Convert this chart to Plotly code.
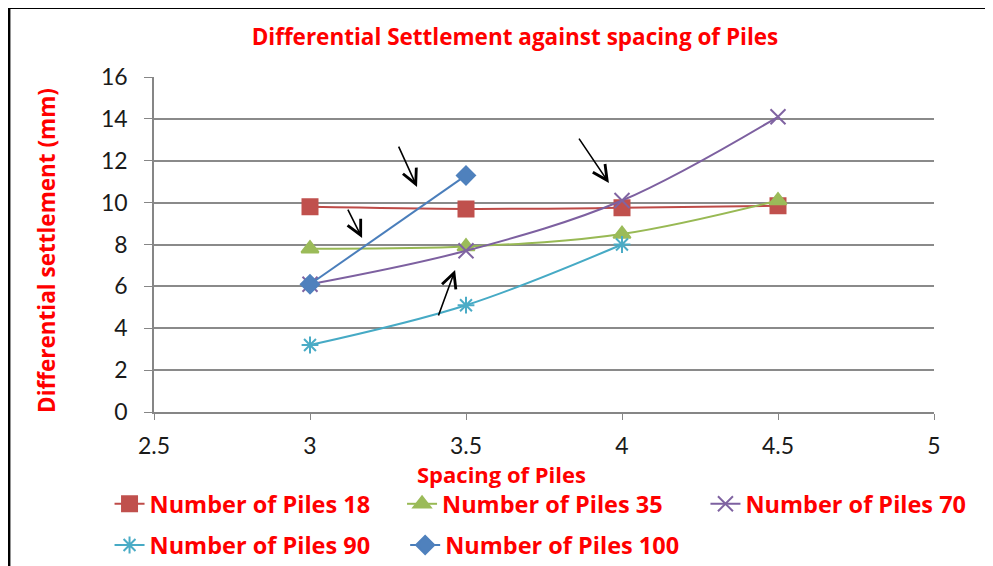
import plotly.graph_objects as go

# spacing of piles
spacing = [3, 3.5, 4, 4.5]

piles_18 = [9.8, 9.7, 9.75, 9.85]
piles_35 = [7.8, 7.9, 8.5, 10.1]
piles_70 = [6.1, 7.7, 10.1, 14.1]
piles_90 = [3.2, 5.1, 8.0]
piles_100 = [6.1, 11.3]

series = [
    ("Number of Piles 18", piles_18, "#BE4B48", "#C0504D", "square", 15),
    ("Number of Piles 35", piles_35, "#98B954", "#9BBB59", "triangle-up", 15),
    ("Number of Piles 70", piles_70, "#7D60A0", "#8064A2", "x-thin-open", 15),
    ("Number of Piles 90", piles_90, "#46AAC5", "#4BACC6", "asterisk-open", 14),
    ("Number of Piles 100", piles_100, "#4A7EBB", "#4F81BD", "diamond", 14),
]

# hand-drawn arrows (tail x, tail y, head x, head y) in data units
arrows = [
    (3.282, 12.75, 3.343, 10.75),
    (3.119, 9.74, 3.167, 8.31),
    (3.859, 13.13, 3.958, 10.94),
    (3.410, 4.54, 3.465, 6.78),
]

RED = "#FF0000"
TICKFONT = "Lato"
BOLDFONT = "Open Sans"

# one small legend per entry so the two-row Excel layout can be matched
legend_pos = [(-0.057, -0.209), (0.318, -0.209), (0.707, -0.209),
              (-0.057, -0.332), (0.322, -0.332)]

fig = go.Figure()
for i, (name, ys, lc, mc, sym, msize) in enumerate(series):
    lg = "legend" if i == 0 else f"legend{i + 1}"
    fig.add_trace(go.Scatter(
        x=spacing[:len(ys)], y=ys, name=f"<b>{name}</b>", mode="lines+markers",
        line=dict(color=lc, width=2, shape="spline"),
        marker=dict(symbol=sym, size=msize, color=mc,
                    line=dict(color=mc, width=2)),
        legend=lg, showlegend=True,
    ))

legends = {}
for i, (lx, ly) in enumerate(legend_pos):
    key = "legend" if i == 0 else f"legend{i + 1}"
    legends[key] = dict(
        x=lx, xanchor="left", y=ly, yanchor="top", orientation="h",
        bgcolor="rgba(0,0,0,0)",
        font=dict(family=BOLDFONT, size=23.5, color=RED),
    )

for tx, ty, hx, hy in arrows:
    fig.add_annotation(
        x=hx, y=hy, ax=tx, ay=ty, xref="x", yref="y", axref="x", ayref="y",
        text="", showarrow=True, arrowhead=5, arrowsize=1.8,
        arrowwidth=1.6, arrowcolor="black",
    )

# axis titles placed as in the Excel chart (slightly off-centre)
fig.add_annotation(text="<b>Spacing of Piles</b>", xref="paper", yref="paper",
                   x=0.446, y=-0.184, xanchor="center", yanchor="middle",
                   showarrow=False, borderpad=0,
                   font=dict(family=BOLDFONT, size=22, color=RED))
fig.add_annotation(text="<b>Differential settlement (mm)</b>", xref="paper",
                   yref="paper", x=-0.137, y=0.481, xanchor="center",
                   yanchor="middle", textangle=-90, showarrow=False,
                   font=dict(family=BOLDFONT, size=22.5, color=RED))

# outer frame (only top and left edges fall inside the picture)
fig.add_shape(type="line", xref="paper", yref="paper",
              x0=-0.186, x1=1.1, y0=1.2075, y1=1.2075,
              line=dict(color="black", width=3))
fig.add_shape(type="line", xref="paper", yref="paper",
              x0=-0.186, x1=-0.186, y0=1.2075, y1=-0.5,
              line=dict(color="black", width=3))

fig.update_layout(
    width=985, height=558,
    margin=dict(l=146, r=59, t=69, b=154, autoexpand=False),
    plot_bgcolor="white", paper_bgcolor="white",
    showlegend=True,
    font=dict(family=TICKFONT, size=23, color="#1a1a1a"),
    title=dict(text="<b>Differential Settlement against spacing of Piles</b>",
               x=0.5147, xanchor="center", y=0.947, yanchor="middle",
               font=dict(family=BOLDFONT, size=22.5, color=RED)),
    **legends,
)
fig.update_xaxes(
    range=[2.5, 5], dtick=0.5, tick0=2.5, showgrid=False,
    showline=True, linecolor="#868686", linewidth=1.5,
    ticks="outside", ticklen=6, tickcolor="#868686",
    ticklabelstandoff=7,
)
fig.update_yaxes(
    range=[0, 16], dtick=2, showgrid=True, gridcolor="#8a8a8a", gridwidth=1.5,
    showline=True, linecolor="#868686", linewidth=1.5,
    ticks="outside", ticklen=8, tickcolor="#868686", zeroline=False,
    ticklabelstandoff=12,
)

fig.write_html("out.html")
